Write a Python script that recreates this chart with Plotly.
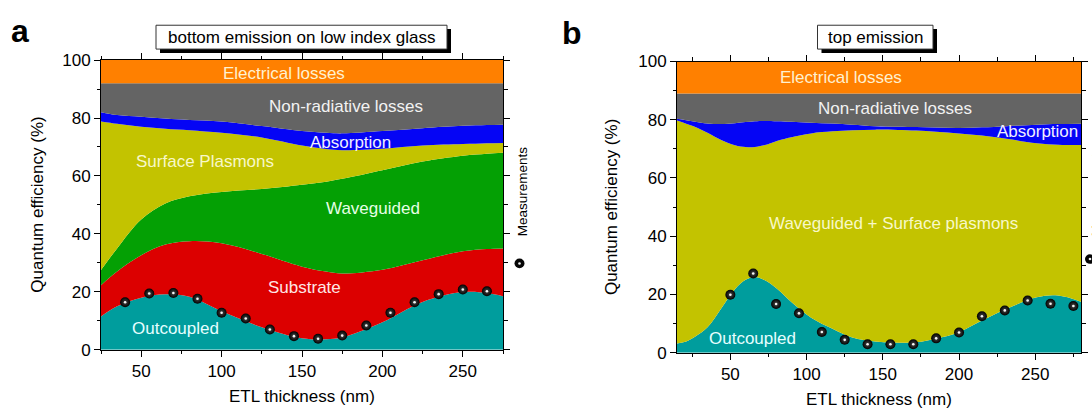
import plotly.graph_objects as go

W, H = 1092, 418
FONT = "Liberation Sans, Arial, sans-serif"

# ---------------- Panel a data (cumulative layer tops, %) ----------------
xa = [25, 35, 50, 65, 80, 100, 125, 150, 165, 175, 200, 225, 250, 265, 275]
a_outcoupled = [11.5, 15.0, 18.0, 19.2, 18.3, 13.3, 7.8, 4.0, 3.6, 4.3, 9.5, 16.5, 19.9, 19.6, 18.5]
a_substrate = [22.3, 27.0, 32.6, 36.3, 37.5, 36.8, 33.1, 28.7, 27.0, 26.3, 27.6, 30.9, 34.0, 34.8, 35.0]
a_waveguided = [27.5, 35.0, 45.0, 50.5, 53.0, 54.5, 55.5, 57.0, 58.0, 59.0, 62.0, 65.0, 67.0, 67.7, 68.0]
a_plasmons = [78.8, 78.0, 77.0, 76.3, 75.8, 74.9, 73.3, 70.5, 69.3, 68.9, 69.4, 70.5, 71.0, 71.3, 71.4]
a_absorption = [82.0, 81.0, 80.4, 79.8, 79.3, 78.8, 77.2, 75.5, 74.9, 74.7, 75.5, 76.5, 77.3, 77.6, 77.7]
a_nonrad = [92.0] * len(xa)
a_electrical = [100.0] * len(xa)

a_meas_x = [40, 55, 70, 85, 100, 115, 130, 145, 160, 175, 190, 205, 220, 235, 250, 265]
a_meas_y = [16.4, 19.4, 19.6, 17.6, 12.8, 10.8, 7.0, 4.7, 3.8, 4.9, 8.4, 12.8, 16.4, 19.2, 20.8, 20.2]

# ---------------- Panel b data ----------------
xb = [15, 21, 27, 35, 44, 53, 60, 66, 72, 81, 90, 103, 117, 130, 145, 160, 172, 185, 200, 215, 231, 251, 265, 280]
b_outcoupled = [3.1, 3.8, 5.5, 8.7, 15.2, 21.8, 25.0, 26.0, 25.0, 21.8, 17.4, 12.0, 8.2, 5.2, 3.8, 3.4, 3.6, 4.8, 7.0, 11.0, 15.0, 19.0, 19.6, 17.5]
b_wg_sp = [79.7, 78.6, 77.5, 75.5, 73.0, 71.2, 70.6, 70.6, 71.2, 72.8, 74.0, 75.3, 76.0, 76.4, 76.6, 76.5, 76.3, 75.9, 75.3, 74.6, 73.5, 71.9, 71.4, 71.3]
b_absorption = [80.3, 79.8, 79.3, 78.7, 78.5, 78.8, 79.2, 79.5, 79.6, 79.5, 79.3, 79.0, 78.7, 78.3, 77.8, 77.6, 77.5, 77.3, 77.2, 77.4, 77.8, 78.3, 78.5, 78.6]
b_nonrad = [89.0] * len(xb)
b_electrical = [100.0] * len(xb)

b_meas_x = [50, 65, 80, 95, 110, 125, 140, 155, 170, 185, 200, 215, 230, 245, 260, 275]
b_meas_y = [19.9, 27.2, 16.7, 13.5, 7.1, 4.4, 2.9, 2.9, 2.9, 4.9, 6.9, 12.5, 14.5, 17.9, 16.8, 16.0]

x_ticks = [50, 100, 150, 200, 250]
y_ticks = [0, 20, 40, 60, 80, 100]

C_ORANGE = "#FF8000"
C_GRAY = "#646464"
C_BLUE = "#0505F5"
C_OLIVE = "#C3C300"
C_GREEN = "#04A004"
C_RED = "#DC0000"
C_TEAL = "#009D9D"

fig = go.Figure()


def add_stack(xs, layers, xaxis, yaxis):
    first = True
    for ys, col in layers:
        fig.add_trace(go.Scatter(
            x=xs, y=ys, mode="lines", xaxis=xaxis, yaxis=yaxis,
            line=dict(width=0, shape="spline", smoothing=1.0, color=col),
            fill="tozeroy" if first else "tonexty", fillcolor=col,
            hoverinfo="skip", showlegend=False))
        first = False


add_stack(xa, [(a_outcoupled, C_TEAL), (a_substrate, C_RED), (a_waveguided, C_GREEN),
               (a_plasmons, C_OLIVE), (a_absorption, C_BLUE), (a_nonrad, C_GRAY),
               (a_electrical, C_ORANGE)], "x", "y")
add_stack(xb, [(b_outcoupled, C_TEAL), (b_wg_sp, C_OLIVE), (b_absorption, C_BLUE),
               (b_nonrad, C_GRAY), (b_electrical, C_ORANGE)], "x2", "y2")

for mx, my, xa_, ya_ in [(a_meas_x, a_meas_y, "x", "y"), (b_meas_x, b_meas_y, "x2", "y2")]:
    fig.add_trace(go.Scatter(x=mx, y=my, mode="markers", xaxis=xa_, yaxis=ya_,
                             marker=dict(size=10, color="#000000", line=dict(width=0),
                                         gradient=dict(type="radial", color="#4a4a4a")),
                             showlegend=False, hoverinfo="skip"))
    fig.add_trace(go.Scatter(x=mx, y=my, mode="markers", xaxis=xa_, yaxis=ya_,
                             marker=dict(size=2.6, color="#f4f4f4", line=dict(width=0)),
                             showlegend=False, hoverinfo="skip"))


def px_x(v):
    return v / W


def px_y(v):
    return 1 - v / H


axis_common = dict(
    showline=True, linecolor="black", linewidth=1, mirror="ticks",
    ticks="outside", ticklen=6, tickwidth=1, tickcolor="black",
    showgrid=False, zeroline=False,
    tickfont=dict(family=FONT, size=17, color="black"),
)

fig.update_layout(
    width=W, height=H,
    margin=dict(l=0, r=0, t=0, b=0),
    paper_bgcolor="white", plot_bgcolor="white",
    font=dict(family=FONT, size=17, color="black"),
    xaxis=dict(domain=[px_x(101), px_x(503)], range=[25, 275], anchor="y",
               tickvals=x_ticks, minor=dict(dtick=25, tick0=0, ticks="outside", ticklen=3.5, tickcolor="black"),
               **axis_common),
    yaxis=dict(domain=[px_y(357), px_y(53.5)], range=[0, 100], anchor="x",
               tickvals=y_ticks, minor=dict(dtick=10, tick0=0, ticks="outside", ticklen=3.5, tickcolor="black"),
               **axis_common),
    xaxis2=dict(domain=[px_x(677), px_x(1081)], range=[15, 280], anchor="y2",
                tickvals=x_ticks, minor=dict(dtick=25, tick0=0, ticks="outside", ticklen=3.5, tickcolor="black"),
                **axis_common),
    yaxis2=dict(domain=[px_y(360), px_y(55)], range=[0, 100], anchor="x2",
                tickvals=y_ticks, minor=dict(dtick=10, tick0=0, ticks="outside", ticklen=3.5, tickcolor="black"),
                **axis_common),
)

ann = []


def lab(text, x, y, xr, yr, color, size=17):
    ann.append(dict(text=text, x=x, y=y, xref=xr, yref=yr, showarrow=False,
                    font=dict(family=FONT, size=size, color=color),
                    xanchor="center", yanchor="middle"))


# panel a region labels
lab("Electrical losses", 139, 95.4, "x", "y", "#FFF1D0")
lab("Non-radiative losses", 177.5, 83.9, "x", "y", "#F2F2F2")
lab("Absorption", 180.3, 71.5, "x", "y", "#F0F0FF")
lab("Surface Plasmons", 89.7, 64.9, "x", "y", "#F8F8C8")
lab("Waveguided", 194.2, 48.6, "x", "y", "#E6FFE6")
lab("Substrate", 151.7, 21.5, "x", "y", "#FFE6E6")
lab("Outcoupled", 71.4, 7.5, "x", "y", "#E6FFFF")

# panel b region labels
lab("Electrical losses", 122.5, 94.6, "x2", "y2", "#FFF1D0")
lab("Non-radiative losses", 157.9, 83.7, "x2", "y2", "#F2F2F2")
lab("Absorption", 251.6, 76.1, "x2", "y2", "#F0F0FF")
lab("Waveguided + Surface plasmons", 156.7, 44.5, "x2", "y2", "#F8F8C8")
lab("Outcoupled", 64.2, 5.0, "x2", "y2", "#E6FFFF")

# axis titles
for cx, cy in [(38, 205), (611, 207.5)]:
    ann.append(dict(text="Quantum efficiency (%)", x=px_x(cx), y=px_y(cy), xref="paper", yref="paper",
                    showarrow=False, textangle=-90, font=dict(family=FONT, size=17, color="black"),
                    xanchor="center", yanchor="middle"))
for cx, cy in [(302, 406), (879, 409)]:
    ann.append(dict(text="ETL thickness (nm)", x=px_x(cx), y=px_y(cy), xref="paper", yref="paper",
                    showarrow=False, font=dict(family=FONT, size=17, color="black"),
                    xanchor="center", yanchor="middle"))

# panel letters
for t, cx, cy in [("a", 20, 23), ("b", 572, 25)]:
    ann.append(dict(text="<b>" + t + "</b>", x=px_x(cx), y=px_y(cy), xref="paper", yref="paper",
                    showarrow=False, font=dict(family=FONT, size=32, color="black"),
                    xanchor="center", yanchor="middle"))

# legend "Measurements"
for cx, cy in [(522, 191), (1096, 191)]:
    ann.append(dict(text="Measurements", x=px_x(cx), y=px_y(cy), xref="paper", yref="paper",
                    showarrow=False, textangle=-90, font=dict(family=FONT, size=13.5, color="black"),
                    xanchor="center", yanchor="middle"))

shapes = []
# title boxes with drop shadow
for (x0, x1, title) in [(156, 447, "bottom emission on low index glass"), (817.5, 933, "top emission")]:
    shapes.append(dict(type="rect", xref="paper", yref="paper", x0=px_x(x0 + 4), x1=px_x(x1 + 4),
                       y0=px_y(46), y1=px_y(21), fillcolor="black", line=dict(width=0), layer="above"))
    shapes.append(dict(type="rect", xref="paper", yref="paper", x0=px_x(x0), x1=px_x(x1),
                       y0=px_y(42), y1=px_y(17), fillcolor="white", line=dict(color="#333333", width=1),
                       layer="above"))
    ann.append(dict(text=title, x=px_x((x0 + x1) / 2), y=px_y(29.5), xref="paper", yref="paper",
                    showarrow=False, font=dict(family=FONT, size=17, color="black"),
                    xanchor="center", yanchor="middle"))

# legend symbol (sphere) positions in pixels
for cx, cy in [(519.5, 266.5), (1090, 262)]:
    r = 5
    shapes.append(dict(type="circle", xref="paper", yref="paper", x0=px_x(cx - r), x1=px_x(cx + r),
                       y0=px_y(cy + r), y1=px_y(cy - r), fillcolor="#050505", line=dict(width=0),
                       layer="above"))
    shapes.append(dict(type="circle", xref="paper", yref="paper", x0=px_x(cx - 1.3), x1=px_x(cx + 1.3),
                       y0=px_y(cy + 1.3), y1=px_y(cy - 1.3), fillcolor="#f0f0f0", line=dict(width=0),
                       layer="above"))

fig.update_layout(annotations=ann, shapes=shapes)
fig.write_html("out.html")
